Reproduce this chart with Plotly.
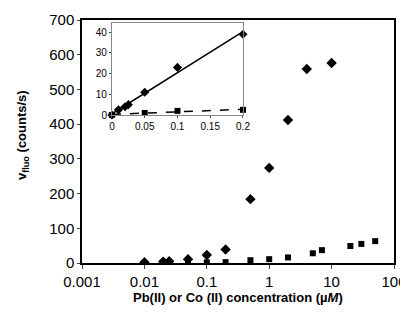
import numpy as np
import plotly.graph_objects as go

# Pb(II) data (diamonds)
pb_x = [0.01, 0.02, 0.025, 0.05, 0.1, 0.2, 0.5, 1, 2, 4, 10]
pb_y = [2.5, 4, 5, 11, 23, 39, 184, 274, 412, 559, 576]
# Co(II) data (squares)
co_x = [0.05, 0.1, 0.2, 0.5, 1, 2, 5, 7, 20, 30, 50]
co_y = [1, 2, 2.5, 8, 11, 16, 28, 37, 49, 55, 63]

# inset data (linear scale, low concentrations)
pb_in_x = [0, 0.01, 0.02, 0.025, 0.05, 0.1, 0.2]
pb_in_y = [0, 2.5, 4, 5, 11, 23, 39]
co_in_x = [0, 0.05, 0.1, 0.2]
co_in_y = [0, 1, 2, 2.5]

main_xticks = [0.001, 0.01, 0.1, 1, 10, 100]
main_xtext = ["0.001", "0.01", "0.1", "1", "10", "100"]
main_yticks = [0, 100, 200, 300, 400, 500, 600, 700]
inset_xticks = [0, 0.05, 0.1, 0.15, 0.2]
inset_xtext = ["0", "0.05", "0.1", "0.15", "0.2"]
inset_yticks = [0, 10, 20, 30, 40]

x_title = "<b>Pb(II) or Co (II) concentration (µ<i>M</i>)</b>"
y_title = "<b>v<sub>fluo</sub> (counts/s)</b>"

FONT = "Liberation Sans, Arial, sans-serif"

fig = go.Figure()
fig.add_trace(go.Scatter(x=pb_x, y=pb_y, mode="markers",
                         marker=dict(symbol="diamond", size=8, color="black"),
                         showlegend=False))
fig.add_trace(go.Scatter(x=co_x, y=co_y, mode="markers",
                         marker=dict(symbol="square", size=6, color="black"),
                         showlegend=False))

# linear fits for inset
pb_fit = np.polyfit(pb_in_x, pb_in_y, 1)
co_fit = np.polyfit(co_in_x, co_in_y, 1)
fx = np.array([min(pb_in_x), max(pb_in_x)])
fig.add_trace(go.Scatter(x=fx, y=np.polyval(pb_fit, fx), mode="lines",
                         line=dict(color="black", width=1.5),
                         xaxis="x2", yaxis="y2", showlegend=False))
fig.add_trace(go.Scatter(x=fx, y=np.polyval(co_fit, fx), mode="lines",
                         line=dict(color="black", width=1.5, dash="dash"),
                         xaxis="x2", yaxis="y2", showlegend=False))
fig.add_trace(go.Scatter(x=pb_in_x, y=pb_in_y, mode="markers",
                         marker=dict(symbol="diamond", size=7, color="black"),
                         xaxis="x2", yaxis="y2", showlegend=False, cliponaxis=False))
fig.add_trace(go.Scatter(x=co_in_x, y=co_in_y, mode="markers",
                         marker=dict(symbol="square", size=6, color="black"),
                         xaxis="x2", yaxis="y2", showlegend=False, cliponaxis=False))

fig.update_layout(
    width=408, height=328,
    margin=dict(l=74, r=22, t=12, b=73, autoexpand=False),
    paper_bgcolor="white", plot_bgcolor="white",
    font=dict(family=FONT, color="black", size=15),
    xaxis=dict(type="log", range=[-3, 2], tickvals=main_xticks, ticktext=main_xtext,
               showgrid=False, zeroline=False, showline=True, linecolor="black",
               linewidth=1.5, mirror=True, ticks="outside", ticklen=4,
               tickfont=dict(size=15), automargin=False),
    yaxis=dict(range=[0, 700], tickvals=main_yticks, showgrid=False, zeroline=False,
               showline=True, linecolor="black", linewidth=1.5, mirror=True,
               ticks="outside", ticklen=3, tickfont=dict(size=15), automargin=False),
    xaxis2=dict(domain=[0.096, 0.516], anchor="y2", range=[0, 0.2],
                tickvals=inset_xticks, ticktext=inset_xtext,
                showgrid=False, zeroline=False, showline=True, linecolor="#888888",
                linewidth=1, mirror=True, ticks="outside", ticklen=2,
                tickfont=dict(size=10), automargin=False),
    yaxis2=dict(domain=[0.609, 0.988], anchor="x2", range=[0, 44.5],
                tickvals=inset_yticks, showgrid=False, zeroline=False, showline=True,
                linecolor="#888888", linewidth=1, mirror=True, ticks="outside",
                ticklen=2, tickfont=dict(size=10), automargin=False),
    annotations=[
        dict(text=x_title, xref="paper", yref="paper", x=0.5, y=-0.14,
             xanchor="center", yanchor="middle", showarrow=False,
             font=dict(size=13)),
        dict(text=y_title, xref="paper", yref="paper", x=-0.189, y=0.527,
             xanchor="center", yanchor="middle", showarrow=False, textangle=-90,
             font=dict(size=13)),
    ],
)

fig.write_html("out.html")
